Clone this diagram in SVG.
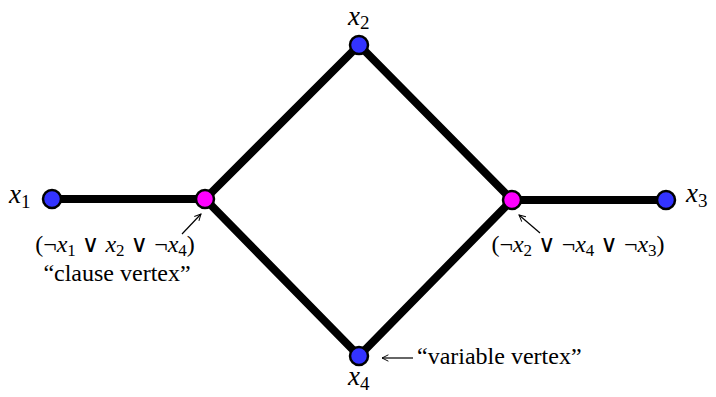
<svg xmlns="http://www.w3.org/2000/svg" width="716" height="397" viewBox="0 0 716 397">
<defs>
<style>
.edge{stroke:#000;stroke-width:8;stroke-linecap:round;fill:none}
.var{fill:#3333ff;stroke:#000;stroke-width:2.5}
.cl{fill:#ff00ff;stroke:#000;stroke-width:2.5}
.ptr{stroke:#000;stroke-width:1.2;fill:none}
text{font-family:"Liberation Serif","DejaVu Serif",serif;fill:#000}
.big{font-size:27px}
.mid{font-size:24px}
.it{font-style:italic}
.sb{font-size:19px}
.ss{font-size:17px}
</style>
<marker id="ah" viewBox="0 0 10 10" refX="9" refY="5" markerWidth="8" markerHeight="8" orient="auto" markerUnits="userSpaceOnUse">
<path d="M1,1 L9,5 L1,9" fill="none" stroke="#000" stroke-width="1.2"/>
</marker>
</defs>
<rect width="716" height="397" fill="#fff"/>
<g id="connectors">
<line class="edge" x1="52" y1="199" x2="205" y2="199"/>
<line class="edge" x1="205" y1="199" x2="359" y2="45"/>
<line class="edge" x1="205" y1="199" x2="359" y2="356"/>
<line class="edge" x1="359" y1="45" x2="512" y2="200"/>
<line class="edge" x1="359" y1="356" x2="512" y2="200"/>
<line class="edge" x1="512" y1="200" x2="666" y2="200"/>
<line class="ptr" x1="182" y1="234" x2="201" y2="214" marker-end="url(#ah)"/>
<line class="ptr" x1="540" y1="233" x2="519" y2="215" marker-end="url(#ah)"/>
<line class="ptr" x1="413" y1="358" x2="382" y2="358" marker-end="url(#ah)"/>
</g>
<g id="x1">
<circle class="var" cx="52" cy="199" r="9"/>
<text class="big" x="9" y="203"><tspan class="it">x</tspan><tspan class="sb" dy="5">1</tspan></text>
</g>
<g id="x2">
<circle class="var" cx="359" cy="45" r="9"/>
<text class="big" x="348" y="25"><tspan class="it">x</tspan><tspan class="sb" dy="4">2</tspan></text>
</g>
<g id="x3">
<circle class="var" cx="666" cy="200" r="9"/>
<text class="big" x="686" y="202"><tspan class="it">x</tspan><tspan class="sb" dy="5">3</tspan></text>
</g>
<g id="x4">
<circle class="var" cx="359" cy="356" r="9"/>
<text class="big" x="348" y="385"><tspan class="it">x</tspan><tspan class="sb" dy="5">4</tspan></text>
<text class="mid" x="417" y="364">“variable vertex”</text>
</g>
<g id="clause1">
<circle class="cl" cx="205" cy="199" r="9"/>
<text class="mid" x="115" y="252" text-anchor="middle">(¬<tspan class="it">x</tspan><tspan class="ss" dy="4">1</tspan><tspan dy="-4"> ∨ </tspan><tspan class="it">x</tspan><tspan class="ss" dy="4">2</tspan><tspan dy="-4"> ∨ ¬</tspan><tspan class="it">x</tspan><tspan class="ss" dy="4">4</tspan><tspan dy="-4">)</tspan></text>
<text class="mid" x="117" y="281" text-anchor="middle">“clause vertex”</text>
</g>
<g id="clause2">
<circle class="cl" cx="512" cy="200" r="9"/>
<text class="mid" x="578" y="252" text-anchor="middle">(¬<tspan class="it">x</tspan><tspan class="ss" dy="4">2</tspan><tspan dy="-4"> ∨ ¬</tspan><tspan class="it">x</tspan><tspan class="ss" dy="4">4</tspan><tspan dy="-4"> ∨ ¬</tspan><tspan class="it">x</tspan><tspan class="ss" dy="4">3</tspan><tspan dy="-4">)</tspan></text>
</g>
</svg>
